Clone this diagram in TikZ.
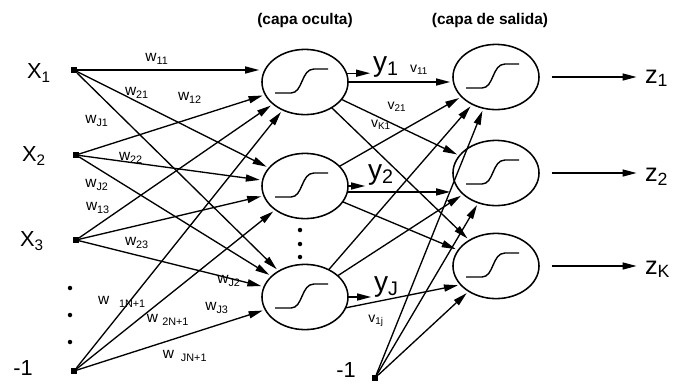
\documentclass[tikz,border=0pt]{standalone}
\usepackage{fontspec}
\setmainfont{Liberation Sans}
\usetikzlibrary{arrows.meta, shapes.geometric, calc}

\begin{document}
\begin{tikzpicture}[
    x=0.025cm, y=-0.025cm,
    every node/.style={inner sep=0pt, outer sep=0pt},
    neuron/.style={
        ellipse,
        draw=black,
        line width=1.1pt,
        minimum width=2.15cm,
        minimum height=1.63cm
    },
    unitsq/.style={
        rectangle,
        fill=black,
        minimum size=4.4pt
    },
    arrow/.style={
        line width=0.95pt,
        -{Triangle[length=10pt, width=5pt]},
        shorten >=2pt
    },
    invar/.style={font=\fontsize{15.5}{15.5}\selectfont},
    outvar/.style={font=\fontsize{18}{18}\selectfont},
    hidvar/.style={font=\fontsize{20}{20}\selectfont},
    weight/.style={font=\fontsize{11}{11}\selectfont},
    vweight/.style={font=\fontsize{10}{10}\selectfont},
    layertitle/.style={font=\bfseries\fontsize{11}{11}\selectfont},
    sigmoid/.pic={
        \draw[line width=1pt] (-30,11) -- (-14,11)
            .. controls (-2,11) and (-4,-13) .. (9,-13) -- (23,-13);
    }
]
\useasboundingbox (0,0) rectangle (680,384);

% ==================== INPUT LAYER (LEFT) ====================

\node (x1) [unitsq] at (74,70) {};
\node (x2) [unitsq] at (76,155) {};
\node (x3) [unitsq] at (76,240) {};
\node (b1) [unitsq] at (74,371) {};

\node (lab_x1) [invar] at (39,73) {X\textsubscript{1}};
\node (lab_x2) [invar] at (34,156) {X\textsubscript{2}};
\node (lab_x3) [invar] at (32,241) {X\textsubscript{3}};
\node (lab_b1) [invar] at (23,368) {-1};

\fill (70,288) circle (1.6pt);
\fill (70,315) circle (1.6pt);
\fill (70,342) circle (1.6pt);

% ==================== HIDDEN LAYER ====================

\node (title_h) [layertitle] at (305,20) {(capa oculta)};

\node (h1) [neuron] at (305,82) {};
\node (h2) [neuron] at (305,186) {};
\node (hJ) [neuron] at (305,297) {};
\pic at (h1) {sigmoid};
\pic at (h2) {sigmoid};
\pic at (hJ) {sigmoid};

\fill (300,230) circle (1.6pt);
\fill (300,244) circle (1.6pt);
\fill (300,257) circle (1.6pt);

% Connections input -> hidden
\draw [arrow] (x1) -- (x1 -| h1.west);
\draw [arrow] (x1) -- (h2);
\draw [arrow] (x1) -- (hJ);
\draw [arrow] (x2) -- (h1);
\draw [arrow] (x2) -- (h2);
\draw [arrow] (x2) -- (hJ);
\draw [arrow] (x3) -- (h1);
\draw [arrow] (x3) -- (h2);
\draw [arrow] (x3) -- (hJ);
\draw [arrow] (b1) -- (h1);
\draw [arrow] (b1) -- (h2);
\draw [arrow] (b1) -- (hJ);

% Weight labels
\node (w11) [weight] at (157,59) {w\textsubscript{11}};
\node (w21) [weight] at (137,93) {w\textsubscript{21}};
\node (w12) [weight] at (190,98) {w\textsubscript{12}};
\node (wJ1) [weight] at (97,121) {w\textsubscript{J1}};
\node (w22) [weight] at (131,158) {w\textsubscript{22}};
\node (wJ2) [weight] at (97,185) {w\textsubscript{J2}};
\node (w13) [weight] at (98,208) {w\textsubscript{13}};
\node (w23) [weight] at (137,243) {w\textsubscript{23}};
\node (wJ2b) [weight] at (229,281) {w\textsubscript{J2}};
\node (wJ3) [weight] at (217,308) {w\textsubscript{J3}};
\node (w1N) [weight] at (122,302) {w\hspace{7pt}\textsubscript{1N+1}};
\node (w2N) [weight] at (168,320) {w\hspace{3pt}\textsubscript{2N+1}};
\node (wJN) [weight] at (185,356) {w\hspace{5pt}\textsubscript{JN+1}};

% ==================== OUTPUT LAYER (RIGHT) ====================

\node (title_o) [layertitle] at (490,20) {(capa de salida)};

\node (o1) [neuron] at (496,77) {};
\node (o2) [neuron] at (496,173) {};
\node (o3) [neuron] at (496,266) {};
\pic at (o1) {sigmoid};
\pic at (o2) {sigmoid};
\pic at (o3) {sigmoid};

\node (b2) [unitsq] at (375,378) {};
\node (lab_b2) [invar] at (346,370) {-1};

% Hidden outputs
\node (y1) [hidvar, anchor=base west] at (373,71) {y\textsubscript{1}};
\node (y2) [hidvar, anchor=base west] at (368,179) {y\textsubscript{2}};
\node (yJ) [hidvar, anchor=base west] at (374,291) {y\textsubscript{J}};
\draw [arrow] (h1.12) -- (y1.west |- h1.12);
\draw [arrow] (h2.east) -- (y2.west |- h2.east);
\draw [arrow] (hJ.east) -- (yJ.west |- hJ.east);

% Connections hidden -> output
\draw [arrow] (h1.east) -- (o1.west |- h1.east);
\draw [arrow] (h1) -- (o2);
\draw [arrow] (h1) -- (o3);
\draw [arrow] (h2) -- (o1);
\draw [arrow] (h2.-8) -- (o2.west |- h2.-8);
\draw [arrow] (h2) -- (o3);
\draw [arrow] (hJ) -- (o1);
\draw [arrow] (hJ) -- (o2);
\draw [arrow] (hJ.-15) -- (o3.208);
\draw [arrow] (b2) -- (o1);
\draw [arrow] (b2) -- (o2);
\draw [arrow] (b2) -- (o3);

\node (v11) [vweight] at (419,70) {v\textsubscript{11}};
\node (v21) [vweight] at (397,107) {v\textsubscript{21}};
\node (vK1) [vweight] at (381,125) {v\textsubscript{K1}};
\node (v1j) [vweight] at (376,321) {v\textsubscript{1j}};

% Network outputs
\node (z1) [outvar, anchor=base west] at (645,83) {z\textsubscript{1}};
\node (z2) [outvar, anchor=base west] at (645,181) {z\textsubscript{2}};
\node (zK) [outvar, anchor=base west] at (645,274) {z\textsubscript{K}};
\draw [arrow, shorten <=9pt, shorten >=6pt] (o1.east) -- (o1.east -| z1.west);
\draw [arrow, shorten <=9pt, shorten >=6pt] (o2.east) -- (o2.east -| z2.west);
\draw [arrow, shorten <=9pt, shorten >=6pt] (o3.east) -- (o3.east -| zK.west);

\end{tikzpicture}
\end{document}
